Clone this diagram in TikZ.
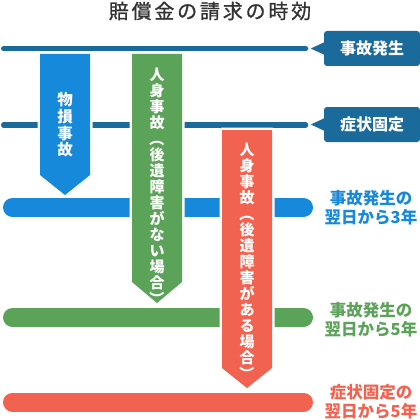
\documentclass[tikz,border=0pt]{standalone}
\usepackage{fontspec}
\setmainfont{Noto Sans CJK JP}
\usetikzlibrary{calc}
\definecolor{dkblue}{HTML}{1B6A9C}
\definecolor{mblue}{HTML}{1689DB}
\definecolor{mgreen}{HTML}{5CA35A}
\definecolor{mred}{HTML}{F16350}
\definecolor{titlegray}{HTML}{333333}
\newcommand{\vopen}{\rotatebox[origin=c]{-90}{（}}
\newcommand{\vclose}{\rotatebox[origin=c]{-90}{）}}
\begin{document}
\begin{tikzpicture}[x=1pt,y=-1pt,
  hline/.style={draw=dkblue,line width=5.5pt,line cap=round},
  band/.style={line width=19pt,line cap=round},
  arrowshape/.style={preaction={draw=white,line width=5pt,line join=round}},
  vtext/.style={text=white,font=\bfseries\fontsize{15}{16}\selectfont,align=center,inner sep=0pt},
  tagbox/.style={fill=dkblue,rounded corners=3pt,text=white,font=\bfseries\fontsize{16}{16}\selectfont,minimum width=96pt,minimum height=35pt,inner sep=0pt},
  rlabel/.style={font=\bfseries\fontsize{16.5}{19}\selectfont,align=center,inner sep=0pt}]
\useasboundingbox (0,0) rectangle (420,420);

% title
\node[text=titlegray,font=\fontsize{20}{20}\selectfont\addfontfeature{LetterSpace=14,FakeBold=1}] (title) at (210,11) {賠償金の請求の時効};

% tags
\node[tagbox] (t1) at (372,48.5) {事故発生};
\node[tagbox] (t2) at (372,124.5) {症状固定};
\fill[dkblue] ($(t1.west)+(1,-6.5)$) -- ($(t1.west)+(-13,0)$) -- ($(t1.west)+(1,6.5)$) -- cycle;
\fill[dkblue] ($(t2.west)+(1,-6.5)$) -- ($(t2.west)+(-13,0)$) -- ($(t2.west)+(1,6.5)$) -- cycle;

% thin lines
\draw[hline] (3.75,48.7) -- (305.5,48.7);
\draw[hline] (3.75,125) -- (305.5,125);

% bands
\draw[band,draw=mblue] (12.5,207.5) -- (303.5,207.5);
\draw[band,draw=mgreen] (12.5,317.5) -- (303.5,317.5);
\draw[band,draw=mred] (12.5,402) -- (303.5,402);

% right labels
\node[rlabel,text=mblue] (l3) at (371,208) {事故発生の\\翌日から3年};
\node[rlabel,text=mgreen] (l5a) at (371,319.5) {事故発生の\\翌日から5年};
\node[rlabel,text=mred] (l5b) at (371,402) {症状固定の\\翌日から5年};

% arrows
\path[arrowshape,fill=mblue] (40,54) -- (90,54) -- (90,175) -- (65,195) -- (40,175) -- cycle;
\path[arrowshape,fill=mgreen] (132,54) -- (182,54) -- (182,282) -- (157,303) -- (132,282) -- cycle;
\path[arrowshape,fill=mred] (222,130) -- (272,130) -- (272,368) -- (247,388) -- (222,368) -- cycle;

% arrow texts
\node[vtext,font=\bfseries\fontsize{15.5}{16.7}\selectfont] (a1) at (65,125) {物\\損\\事\\故};
\node[vtext] (a2) at (157,187) {人\\身\\事\\故\\\vopen\\後\\遺\\障\\害\\が\\な\\い\\場\\合\\\vclose};
\node[vtext] (a3) at (247,262) {人\\身\\事\\故\\\vopen\\後\\遺\\障\\害\\が\\あ\\る\\場\\合\\\vclose};
\end{tikzpicture}
\end{document}
